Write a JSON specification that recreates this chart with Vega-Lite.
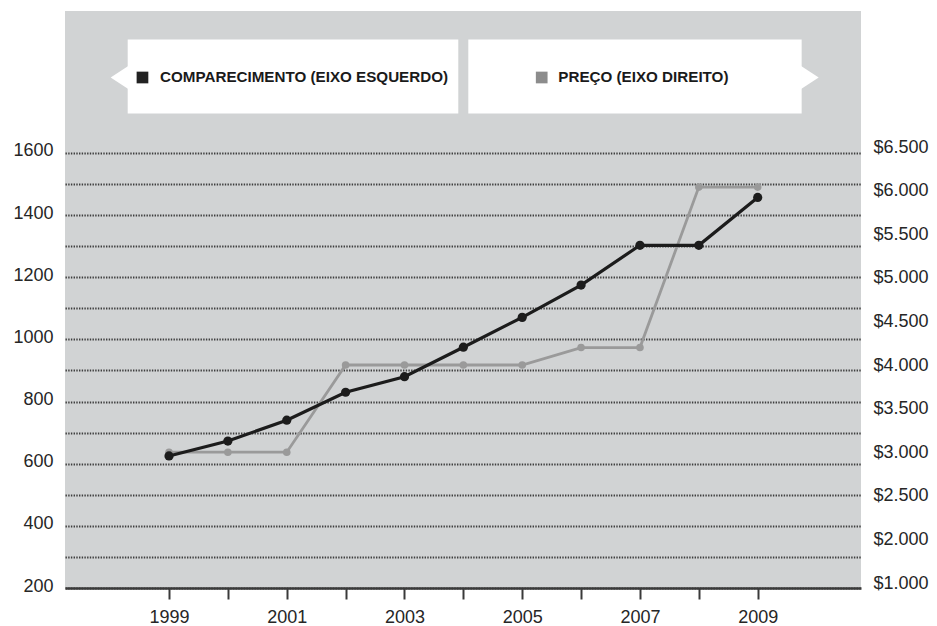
{
  "$schema": "https://vega.github.io/schema/vega-lite/v6.json",
  "width": 796,
  "height": 577,
  "autosize": "none",
  "padding": {"left": 65, "top": 11, "right": 76, "bottom": 38},
  "background": "white",
  "config": {
    "view": {"fill": "#d1d3d4", "stroke": null},
    "font": "Liberation Sans",
    "axis": {"labelFont": "Liberation Sans", "labelFontSize": 18, "labelColor": "#262626"}
  },
  "data": {
    "values": [
      {"ano": 1999, "comparecimento": 625, "preco": 3000},
      {"ano": 2000, "comparecimento": 673, "preco": 3000},
      {"ano": 2001, "comparecimento": 740, "preco": 3000},
      {"ano": 2002, "comparecimento": 830, "preco": 4000},
      {"ano": 2003, "comparecimento": 880, "preco": 4000},
      {"ano": 2004, "comparecimento": 975, "preco": 4000},
      {"ano": 2005, "comparecimento": 1071, "preco": 4000},
      {"ano": 2006, "comparecimento": 1175, "preco": 4200},
      {"ano": 2007, "comparecimento": 1303, "preco": 4200},
      {"ano": 2008, "comparecimento": 1303, "preco": 6040},
      {"ano": 2009, "comparecimento": 1457, "preco": 6040}
    ]
  },
  "layer": [
    {
      "encoding": {
        "x": {"field": "ano", "type": "quantitative",
              "scale": {"domain": [1997.233, 2010.755], "nice": false, "zero": false}},
        "y": {
          "field": "preco", "type": "quantitative",
          "scale": {"domain": [1000, 2000, 6500], "range": [572, 528.4, 136], "nice": false, "zero": false},
          "axis": {
            "orient": "right",
            "title": null,
            "values": [1000, 2000, 2500, 3000, 3500, 4000, 4500, 5000, 5500, 6000, 6500],
            "labelExpr": "'$' + format(datum.value / 1000, '.3f')",
            "grid": false, "ticks": false, "domain": false,
            "labelPadding": 12, "labelBaseline": "middle"
          }
        }
      },
      "layer": [
        {"mark": {"type": "line", "color": "#9a9a9a", "strokeWidth": 2.8}},
        {"mark": {"type": "point", "filled": true, "color": "#9a9a9a", "size": 58, "opacity": 1}}
      ]
    },
    {
      "layer": [
        {
          "mark": {"type": "line", "color": "#1c1c1c", "strokeWidth": 3.2},
          "encoding": {
            "x": {
              "field": "ano", "type": "quantitative",
              "scale": {"domain": [1997.233, 2010.755], "nice": false, "zero": false},
              "axis": {
                "title": null,
                "values": [1999, 2000, 2001, 2002, 2003, 2004, 2005, 2006, 2007, 2008, 2009],
                "labelExpr": "datum.value % 2 == 1 ? format(datum.value, 'd') : ''",
                "grid": false,
                "domain": true, "domainColor": "#3a3a3a", "domainWidth": 2.5,
                "ticks": true, "tickColor": "#3a3a3a", "tickWidth": 2, "tickSize": 11,
                "labelPadding": 9
              }
            },
            "y": {
              "field": "comparecimento", "type": "quantitative",
              "scale": {"domain": [200, 2057], "nice": false, "zero": false},
              "axis": {
                "orient": "left",
                "title": null,
                "values": [200, 300, 400, 500, 600, 700, 800, 900, 1000, 1100, 1200, 1300, 1400, 1500, 1600],
                "labelExpr": "datum.value % 200 == 0 ? format(datum.value, 'd') : ''",
                "grid": true, "gridColor": "#3f3f3f", "gridWidth": 1.9, "gridDash": [1.4, 1.3],
                "ticks": false, "domain": false,
                "labelPadding": 12, "labelOffset": -2, "labelBaseline": "middle"
              }
            }
          }
        },
        {
          "mark": {"type": "point", "filled": true, "color": "#1c1c1c", "size": 85, "opacity": 1},
          "encoding": {
            "x": {"field": "ano", "type": "quantitative"},
            "y": {"field": "comparecimento", "type": "quantitative"}
          }
        },
        {
          "data": {"values": [{"legenda": "COMPARECIMENTO (EIXO ESQUERDO)"}]},
          "layer": [
            {
              "mark": {"type": "rect", "color": "white"},
              "encoding": {
                "x": {"datum": 1998.298, "type": "quantitative"},
                "x2": {"datum": 2003.914},
                "y": {"datum": 1965.5, "type": "quantitative"},
                "y2": {"datum": 1727}
              }
            },
            {
              "mark": {"type": "point", "filled": true, "color": "white", "opacity": 1, "size": 529,
                       "shape": "M-1.48,0 L0.05,-1 L0.05,1 Z"},
              "encoding": {
                "x": {"datum": 1998.298, "type": "quantitative"},
                "y": {"datum": 1843, "type": "quantitative"}
              }
            },
            {
              "mark": {"type": "point", "filled": true, "color": "#222222", "opacity": 1, "size": 137, "shape": "square"},
              "encoding": {
                "x": {"datum": 1998.549, "type": "quantitative"},
                "y": {"datum": 1843, "type": "quantitative"}
              }
            },
            {
              "mark": {"type": "text", "align": "left", "baseline": "middle", "fontSize": 15.2, "fontWeight": "bold",
                       "font": "Liberation Sans", "color": "#1a1a1a"},
              "encoding": {
                "x": {"datum": 1998.847, "type": "quantitative"},
                "y": {"datum": 1843, "type": "quantitative"},
                "text": {"field": "legenda"}
              }
            }
          ]
        },
        {
          "data": {"values": [{"legenda": "PREÇO (EIXO DIREITO)"}]},
          "layer": [
            {
              "mark": {"type": "rect", "color": "white"},
              "encoding": {
                "x": {"datum": 2004.084, "type": "quantitative"},
                "x2": {"datum": 2009.747},
                "y": {"datum": 1965.5, "type": "quantitative"},
                "y2": {"datum": 1727}
              }
            },
            {
              "mark": {"type": "point", "filled": true, "color": "white", "opacity": 1, "size": 529,
                       "shape": "M1.48,0 L-0.05,-1 L-0.05,1 Z"},
              "encoding": {
                "x": {"datum": 2009.747, "type": "quantitative"},
                "y": {"datum": 1843, "type": "quantitative"}
              }
            },
            {
              "mark": {"type": "point", "filled": true, "color": "#8c8c8c", "opacity": 1, "size": 137, "shape": "square"},
              "encoding": {
                "x": {"datum": 2005.331, "type": "quantitative"},
                "y": {"datum": 1843, "type": "quantitative"}
              }
            },
            {
              "mark": {"type": "text", "align": "left", "baseline": "middle", "fontSize": 15.2, "fontWeight": "bold",
                       "font": "Liberation Sans", "color": "#1a1a1a"},
              "encoding": {
                "x": {"datum": 2005.613, "type": "quantitative"},
                "y": {"datum": 1843, "type": "quantitative"},
                "text": {"field": "legenda"}
              }
            }
          ]
        }
      ]
    }
  ],
  "resolve": {"scale": {"y": "independent"}}
}
